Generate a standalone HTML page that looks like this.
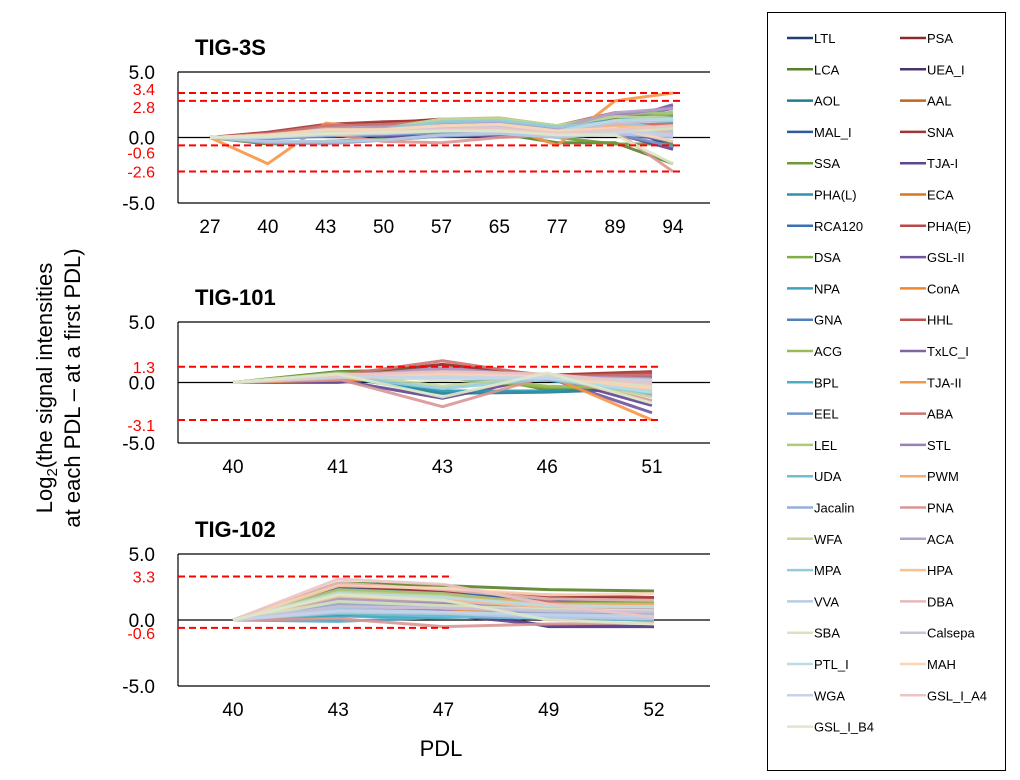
<!DOCTYPE html>
<html><head><meta charset="utf-8"><style>
html,body{margin:0;padding:0;background:#fff;}
svg{display:block;font-family:"Liberation Sans",Arial,sans-serif;}
</style></head><body>
<svg id="chart" width="1020" height="780" viewBox="0 0 1020 780" xmlns="http://www.w3.org/2000/svg">
<g id="panels"></g>
<text transform="translate(52,388) rotate(-90)" text-anchor="middle" font-size="22" fill="#000">Log<tspan font-size="15" dy="5">2</tspan><tspan dy="-5">(the signal intensities</tspan></text>
<text transform="translate(80,388) rotate(-90)" text-anchor="middle" font-size="22" fill="#000">at each PDL – at a first PDL)</text>
<text x="441" y="756" text-anchor="middle" font-size="22" fill="#000">PDL</text>
<rect x="767.5" y="12.5" width="238" height="758" fill="#fff" stroke="#000" stroke-width="1"/>
<g id="legend"></g>
</svg>
<script>
const names=["LTL","PSA","LCA","UEA_I","AOL","AAL","MAL_I","SNA","SSA","TJA-I","PHA(L)","ECA","RCA120","PHA(E)","DSA","GSL-II","NPA","ConA","GNA","HHL","ACG","TxLC_I","BPL","TJA-II","EEL","ABA","LEL","STL","UDA","PWM","Jacalin","PNA","WFA","ACA","MPA","HPA","VVA","DBA","SBA","Calsepa","PTL_I","MAH","WGA","GSL_I_A4","GSL_I_B4"];
const colors=["#1F3F73","#8B2A2A","#5A7F2A","#4A3470","#207C90","#C0651A",
"#2E5A9A","#A33434","#6E9A35","#5E4590","#2C93AE","#D9761E",
"#3B6FB6","#B84A4A","#7FAE45","#6E55A3","#39A3C0","#F0862A",
"#4F81BD","#C0504D","#9BBB59","#8064A2","#4BACC6","#F79646",
"#7297CB","#CD7371","#AEC97A","#9882B5","#6FBDD1","#F9AC6B",
"#95AFD8","#D99694","#C3D69B","#B2A1C7","#93CDDD","#FAC090",
"#B9CBE5","#E6B9B8","#D7E4BD","#CCC1DA","#B7DEE8","#FCD5B5",
"#C5D3EA","#EBC5C4","#DDE8C8"];

const pdl3s=["27","40","43","50","57","65","77","89","94"];
const vals3s=[
[0,0.1,0.5,0.6,0.9,1.0,0.4,1.2,-0.8],[0,0.3,0.9,1.1,1.4,1.4,0.8,1.8,1.4],[0,-0.5,-0.4,-0.2,0.1,0.3,-0.4,-0.4,-2.0],
[0,0.1,0.4,0.5,0.7,0.8,0.3,1.6,2.2],[0,0.1,0.6,0.8,1.2,1.3,0.6,1.4,1.6],[0,0.2,0.7,0.9,1.1,1.2,0.6,1.5,1.2],
[0,0,0.3,0.4,0.6,0.7,0.2,1.0,-0.6],[0,0.4,1.0,1.2,1.3,1.3,0.7,1.3,0.8],[0,-0.4,-0.3,-0.1,0.2,0.6,0,-0.5,-0.5],
[0,-0.1,0.2,0.1,0.1,0.1,0.1,0.3,-0.9],[0,0.1,0.5,0.7,1.0,1.2,0.8,1.7,1.9],[0,0.2,0.6,0.5,0.8,0.9,0.5,1.1,0.9],
[0,0.1,0.4,0.6,0.9,1.0,0.5,1.8,1.7],[0,0.3,0.8,1.0,1.3,1.4,0.9,1.9,1.3],[0,0.2,0.8,0.9,1.3,1.4,0.6,1.7,1.0],
[0,0,0.5,0.4,0.6,0.6,0.2,1.2,2.5],[0,0.1,0.3,0.5,0.7,0.8,0.4,1.0,0.2],[0,0.1,0.4,0.6,0.8,0.9,0.2,0.9,0.7],
[0,0,0.2,0.3,0.4,0.5,0.1,0.7,0.3],[0,0.2,0.6,0.8,1.0,1.0,0.4,0.9,0.6],[0,0.1,0.6,0.7,1.1,1.2,0.6,1.3,1.8],
[0,0.1,0.3,0.3,0.5,0.6,0.2,0.4,-0.3],[0,0.1,0.5,0.6,1.0,1.1,0.5,1.6,1.1],[0,-2.0,1.1,0.6,1.0,1.0,-0.6,2.8,3.4],
[0,-0.1,0.1,0.2,0.4,0.5,0,0.3,-0.7],[0,0.3,0.9,1.0,1.2,1.2,0.6,1.0,1.0],[0,0.1,0.4,0.6,1.4,1.5,0.9,1.8,1.9],
[0,0.1,0.6,0.7,1.0,1.1,0.7,1.7,2.3],[0,0,0.3,0.5,0.8,0.9,0.4,0.8,0.1],[0,0.1,0.5,0.4,0.7,0.8,0.2,1.0,0.4],
[0,-0.4,-0.5,-0.2,0.1,0.3,0.1,0.4,0.5],[0,0.1,0.3,-0.3,-0.4,0,0.2,0.5,-2.6],[0,0.2,0.5,0.7,1.4,1.4,0.9,1.6,1.5],
[0,0.1,0.7,0.8,1.0,1.1,0.7,1.9,2.2],[0,0.1,0.4,0.6,1.2,1.3,0.8,1.2,0.6],[0,0.1,0.3,0.4,0.6,0.7,0.3,0.8,0.8],
[0,-0.3,-0.3,-0.2,0.2,0.3,0,0.3,0],[0,0.2,0.4,0.5,0.7,0.7,0.3,0.6,0.4],[0,0.1,0.3,0.4,0.6,0.7,0.3,0.4,0.7],
[0,0.1,0.4,0.5,0.7,0.8,0.4,1.1,1.3],[0,0.1,0.5,0.6,0.9,1.0,0.5,1.3,1.4],[0,0.2,0.6,0.6,0.9,1.0,0.5,0.7,-0.3],
[0,0,0.2,0.3,0.5,0.5,0.2,0.5,0.2],[0,0.1,0.3,0.4,0.6,0.7,0.3,0.6,0.9],[0,0.1,0.3,0.4,0.5,0.5,0.2,0.2,-2.0]];
const ref3s=[3.4,2.8,-0.6,-2.6];

const pdl101=["40","41","43","46","51"];
const vals101=[
[0,0.5,0.6,0.5,0.6],[0,0.6,1.5,0.6,0.8],[0,0.9,1.1,-0.6,-0.6],[0,0.3,0.8,0.5,0.2],[0,0.5,-0.9,-0.8,-0.5],[0,0.6,0.7,0.6,0.7],
[0,0.5,0.8,0.4,0.3],[0,0.6,1.2,0.6,0.9],[0,0.7,0.9,-0.5,-0.6],[0,0.2,-1.3,0.5,-1.9],[0,0.5,-0.7,-0.7,0.1],[0,0.5,0.9,0.5,0.5],
[0,0.6,0.7,0.5,0.4],[0,0.6,1.1,0.5,0.8],[0,0.8,0.4,-0.4,-0.4],[0,0,0.6,0.4,-2.5],[0,0.5,0.6,0.3,-0.3],[0,0.5,0.7,0.4,0.2],
[0,0.4,0.6,0.4,0.3],[0,0.5,0.9,0.5,0.7],[0,0.8,0.5,-0.3,-0.5],[0,0.3,0.8,0.4,-1.0],[0,0.5,0.3,0.2,-0.9],[0,0.2,0.4,0.6,-3.1],
[0,0.4,0.4,0.3,0.1],[0,0.6,1.8,0.5,0.6],[0,0.7,0.6,0.3,-0.1],[0,0.4,1.0,0.5,0.3],[0,0.4,0.3,0.3,-0.6],[0,0.5,0.6,0.4,-0.2],
[0,0.5,0.5,0.4,0.0],[0,0.3,-2.0,0.5,-1.5],[0,0.7,-0.3,0.5,-1.2],[0,0.5,1.2,0.5,0.3],[0,0.5,-0.5,0.3,-0.9],[0,0.4,0.5,0.4,-0.4],
[0,0.5,0.3,0.3,-0.2],[0,0.6,0.8,0.6,-0.6],[0,0.6,0.2,0.7,-0.3],[0,0.4,0.9,0.5,0.1],[0,0.7,0.4,0.4,-0.8],[0,0.5,0.7,0.5,-0.5],
[0,0.5,0.4,0.4,0.2],[0,0.6,0.9,0.7,-0.1],[0,0.7,-1.2,0.8,-1.7]];
const ref101=[1.3,-3.1];

const pdl102=["40","43","47","49","52"];
const vals102=[
[0,1.8,1.6,1.4,1.2],[0,2.5,2.3,1.7,1.6],[0,2.8,2.6,2.3,2.2],[0,1.2,1.0,-0.5,-0.5],[0,1.0,0.7,0.3,0.5],[0,2.2,1.9,1.5,1.3],
[0,2.4,2.1,1.5,1.4],[0,2.6,2.2,1.9,1.7],[0,0.4,0.5,0.4,0.3],[0,0.6,0.4,-0.4,-0.5],[0,1.5,1.3,1.0,1.0],[0,1.9,1.6,1.3,1.4],
[0,1.1,0.9,0.6,0.5],[0,0.7,0.5,0.2,0.2],[0,1.6,1.3,1.2,1.3],[0,1.4,1.1,0.9,0.7],[0,0.3,0.2,0.4,0.1],[0,0.8,0.7,0.6,0.4],
[0,1.3,1.1,0.8,0.6],[0,1.7,1.4,1.1,0.8],[0,0.5,0.4,0.5,0.2],[0,1.0,0.8,0.4,0.3],[0,-0.1,0.2,0.3,0.2],[0,1.1,0.9,0.2,0.8],
[0,0.9,0.6,0.4,0.4],[0,2.0,1.8,1.4,0.3],[0,2.3,2.0,1.2,1.2],[0,1.5,1.2,0.9,0.6],[0,0.5,0.3,0.1,0.0],[0,1.9,1.7,1.2,1.1],
[0,1.2,1.0,0.6,0.5],[0,0.1,-0.5,-0.3,-0.2],[0,2.1,1.8,0.8,0.9],[0,1.6,1.4,1.0,0.9],[0,0.8,0.6,0.3,0.2],[0,1.8,1.5,1.0,1.0],
[0,0.6,0.5,0.2,0.1],[0,2.8,2.3,1.6,1.5],[0,1.4,1.1,0.8,0.7],[0,1.0,0.9,0.7,0.6],[0,2.0,1.7,1.1,1.0],[0,2.6,2.4,1.9,2.0],
[0,0.7,0.6,0.4,0.3],[0,3.1,2.7,1.2,0.2],[0,1.9,1.5,0.0,-0.3]];
const ref102=[3.3,-0.6];

const NS="http://www.w3.org/2000/svg";
const root=document.getElementById('panels');
function mk(tag,attrs,parent){const e=document.createElementNS(NS,tag);for(const k in attrs)e.setAttribute(k,attrs[k]);(parent||root).appendChild(e);return e;}

const panels=[
 {key:"tig-3s",title:"TIG-3S",cats:pdl3s,vals:vals3s,refs:ref3s,refOff:[-4,6,7,0],top:72,bot:203,x0:210,x1:673,refEnd:681,titleY:55},
 {key:"tig-101",title:"TIG-101",cats:pdl101,vals:vals101,refs:ref101,refOff:[0,5],top:322,bot:443,x0:233,x1:652,refEnd:660,titleY:305},
 {key:"tig-102",title:"TIG-102",cats:pdl102,vals:vals102,refs:ref102,refOff:[0,5],top:554,bot:686,x0:233,x1:654,refEnd:452,titleY:537}
];
panels.forEach(p=>{
 const g=mk('g',{});
 
 
 const y=v=>p.top+(5-v)/10*(p.bot-p.top);
 const n=p.cats.length;
 const x=i=>p.x0+i*(p.x1-p.x0)/(n-1);
 const t=mk('text',{x:195,y:p.titleY,'font-size':22,'font-weight':'bold',fill:'#000'},g);t.textContent=p.title;
 
 
 [5,0,-5].forEach(v=>{
  const l=mk('line',{x1:178,x2:710,y1:y(v),y2:y(v),stroke:'#000','stroke-width':1.2},g);
  
  
  const tx=mk('text',{x:155,y:y(v)+7,'font-size':19,'text-anchor':'end',fill:'#000'},g);tx.textContent=v.toFixed(1);
  
  
 });
 const ax=mk('line',{x1:178,x2:178,y1:y(5),y2:y(-5),stroke:'#000','stroke-width':1.2},g);
 
 
 p.cats.forEach((c,i)=>{
  const tx=mk('text',{x:x(i),y:p.bot+30,'font-size':19,'text-anchor':'middle',fill:'#000'},g);tx.textContent=c;
  
  
 });
 p.vals.forEach((s,k)=>{
  const pl=mk('polyline',{points:s.map((v,i)=>x(i)+','+y(v)).join(' '),fill:'none',stroke:colors[k],'stroke-width':3,'stroke-linejoin':'round','stroke-opacity':0.9},g);
  
  
 });
 p.refs.forEach((r,j)=>{
  const l=mk('line',{x1:178,x2:p.refEnd,y1:y(r),y2:y(r),stroke:'#FF0000','stroke-width':2,'stroke-dasharray':'7,4'},g);
  
  
  const tx=mk('text',{x:155,y:y(r)+p.refOff[j]+6,'font-size':16,'text-anchor':'end',fill:'#FF0000'},g);tx.textContent=r.toFixed(1);
  
  
 });
});

const lg=document.getElementById('legend');
names.forEach((nm,k)=>{
 const col=k%2, row=Math.floor(k/2);
 const lx=col?900:787, ly=38+row*31.3;
 const g=mk('g',{},lg);
 
 
 mk('line',{x1:lx,x2:lx+26,y1:ly,y2:ly,stroke:colors[k],'stroke-width':2.5},g);
 const tx=mk('text',{x:lx+27,y:ly+5,'font-size':13,fill:'#000'},g);tx.textContent=nm;
});
</script>
</body></html>
